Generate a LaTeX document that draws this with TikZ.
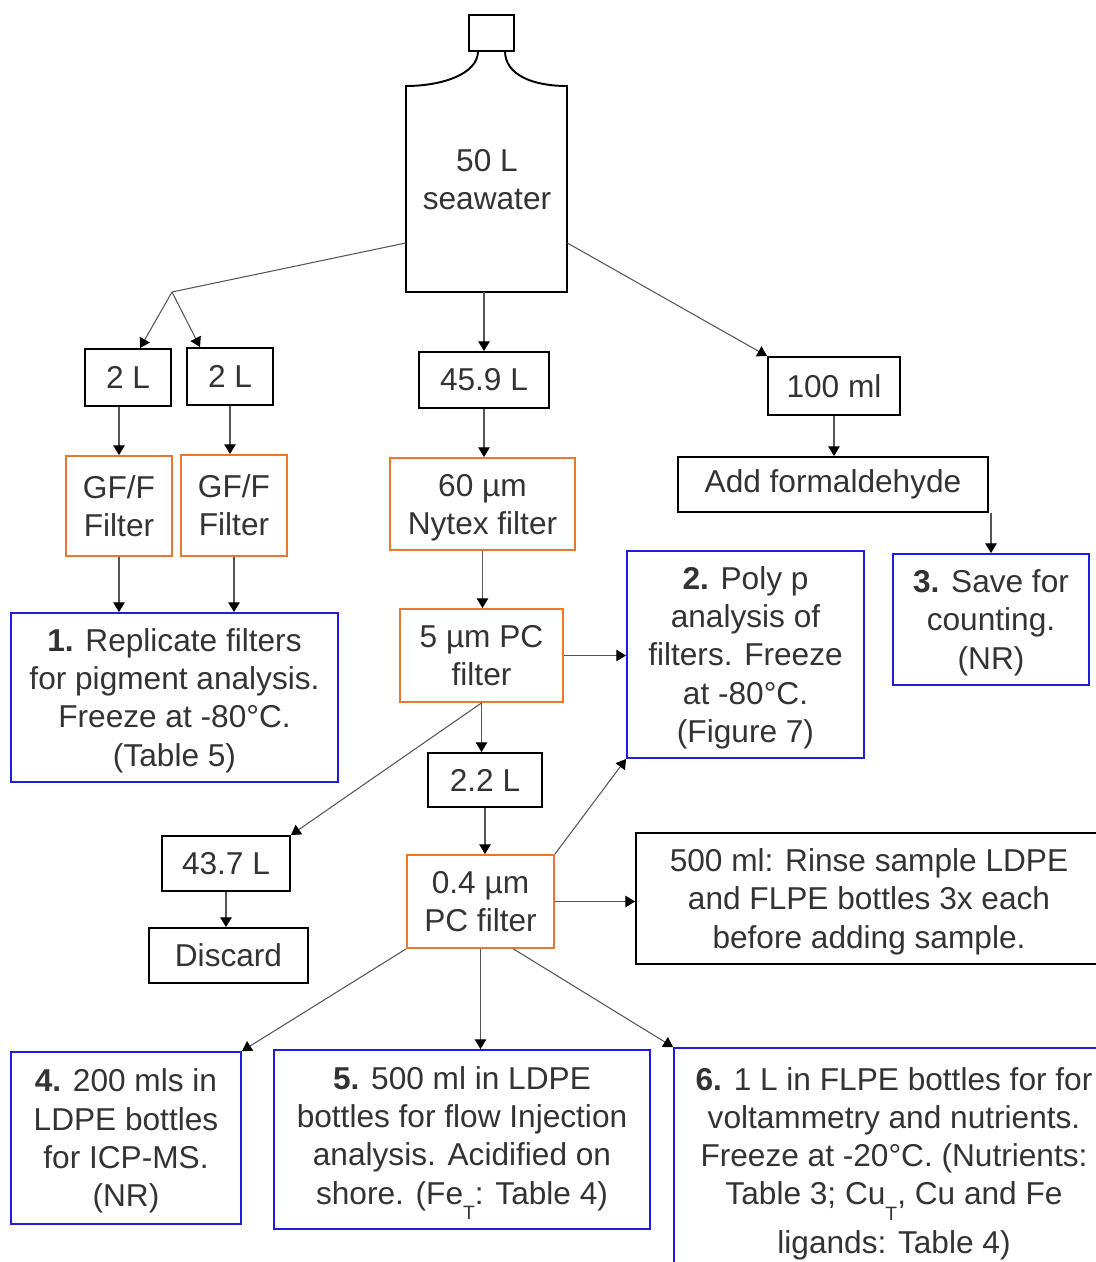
\documentclass[tikz,border=0pt]{standalone}
\usepackage{fontspec}
\setmainfont{Liberation Sans}
\usepackage{tikz}
\usetikzlibrary{arrows.meta}
\definecolor{txt}{HTML}{333333}
\definecolor{ln}{HTML}{555555}
\definecolor{filtc}{HTML}{E8782E}
\definecolor{resc}{HTML}{1E1EDC}
\tikzset{>/.tip={Triangle[length=5.5pt,width=6.5pt,color=black]},
  every node/.style={font=\fontsize{18}{21.8}\selectfont, text=txt, align=center, inner sep=0pt},
  box/.style={draw=black, line width=1.1pt},
  filt/.style={draw=filtc, line width=1.1pt},
  res/.style={draw=resc, line width=1.1pt},
  flow/.style={->, draw=ln, line width=0.6pt}}
\newcommand{\fs}{\rule[-4pt]{0pt}{20.9pt}}
\newcommand{\subT}{\raisebox{-0.9ex}{\fontsize{11}{11}\selectfont T}}

\begin{document}
\begin{tikzpicture}[x=0.02cm, y=-0.02cm]
\useasboundingbox (0,0) rectangle (1096,1262);
\clip (0,0) rectangle (1096,1262);

% bottle
\draw[line width=1.1pt] (469,15) rectangle (514,51);
\draw[line width=1.1pt] (478,51) .. controls (478,75) and (440,86) .. (406,86) -- (406,292)
  -- (567,292) -- (567,86) .. controls (533,86) and (505,75) .. (505,51);
\node[minimum width=3.22cm, minimum height=4.12cm] (sea) at (486.5,189) {};
\node (seatxt) at (487,179) {\fs 50 L\\seawater\fs};

\node[box, minimum width=1.72cm, minimum height=1.14cm] (twoa) at (128,377.5) {2 L};
\node[box, minimum width=1.72cm, minimum height=1.14cm] (twob) at (230,376.5) {2 L};
\node[filt, minimum width=2.12cm, minimum height=2.0cm] (gffa) at (119,506) {\fs GF/F\\Filter\fs};
\node[filt, minimum width=2.12cm, minimum height=2.02cm] (gffb) at (234,505.5) {\fs GF/F\\Filter\fs};
\node[res, minimum width=6.54cm, minimum height=3.38cm] (rep) at (174.5,697.5)
  {\fs\textbf{1.} Replicate filters\\for pigment analysis.\\Freeze at -80°C.\\(Table 5)\fs};

\node[box, minimum width=2.6cm, minimum height=1.12cm] (v459) at (484,380) {45.9 L};
\node[filt, minimum width=3.7cm, minimum height=1.84cm] (nytex) at (482.5,504) {\fs 60 µm\\Nytex filter\fs};
\node[filt, minimum width=3.26cm, minimum height=1.86cm] (pc5) at (481.5,655.5) {\fs 5 µm PC\\filter\fs};
\node[res, minimum width=4.74cm, minimum height=4.14cm] (poly) at (745.5,654.5)
  {\fs\textbf{2.} Poly p\\analysis of\\filters. Freeze\\at -80°C.\\(Figure 7)\fs};
\node[box, minimum width=2.28cm, minimum height=1.08cm] (v22) at (485,780) {2.2 L};
\node[box, minimum width=2.56cm, minimum height=1.1cm] (v437) at (226,863.5) {43.7 L};
\node[box, minimum width=3.18cm, minimum height=1.1cm] (discard) at (228.5,955.5) {Discard};
\node[filt, minimum width=2.94cm, minimum height=1.86cm] (pc04) at (480.5,901.5) {\fs 0.4 µm\\PC filter\fs};
\node[box, minimum width=9.32cm, minimum height=2.62cm] (rinse) at (869,898.5)
  {\fs 500 ml: Rinse sample LDPE\\and FLPE bottles 3x each\\before adding sample.\fs};

\node[res, minimum width=4.6cm, minimum height=3.44cm] (ldpe) at (126,1138)
  {\fs\textbf{4.} 200 mls in\\LDPE bottles\\for ICP-MS.\\(NR)\fs};
\node[res, minimum width=7.52cm, minimum height=3.58cm] (fia) at (462,1139.5)
  {\fs\textbf{5.} 500 ml in LDPE\\bottles for flow Injection\\analysis. Acidified on\\shore. (Fe\subT: Table 4)\fs};
\node[res, minimum width=8.8cm, minimum height=4.62cm] (flpe) at (894,1163.5)
  {\textbf{6.} 1 L in FLPE bottles for for\\voltammetry and nutrients.\\Freeze at -20°C. (Nutrients:\\Table 3; Cu\subT, Cu and Fe\\[0.2cm]ligands: Table 4)};

\node[box, minimum width=2.64cm, minimum height=1.16cm] (ml100) at (834,386) {100 ml};
\node[box, minimum width=6.2cm, minimum height=1.1cm] (formal) at (833,484.5) {Add formaldehyde};
\node[res, minimum width=3.92cm, minimum height=2.62cm] (count) at (991,619.5)
  {\fs\textbf{3.} Save for\\counting.\\(NR)\fs};

% connectors
\coordinate (split) at (172,292);
\draw[draw=ln, line width=0.6pt] ([yshift=-1.08cm]sea.west) to (split);
\draw[flow] (split) to ([xshift=0.24cm]twoa.north);
\draw[flow] (split) to ([xshift=-0.6cm]twob.north);
\draw[flow] (gffa.north |- twoa.south) to (gffa.north);
\draw[flow] (twob.south) to (twob.south |- gffb.north);
\draw[flow] (gffa.south) to (gffa.south |- rep.north);
\draw[flow] (gffb.south) to (gffb.south |- rep.north);

\draw[flow] (v459.north |- sea.south) to (v459.north);
\draw[flow] (v459.south) to (v459.south |- nytex.north);
\draw[flow] (nytex.south) to (nytex.south |- pc5.north);
\draw[flow] (pc5.east) to (pc5.east -| poly.west);
\draw[flow] (pc5.south) to (pc5.south |- v22.north);
\draw[flow] (pc5.south) to (v437.north east);
\draw[flow] (v22.south) to (v22.south |- pc04.north);
\draw[flow] (v437.south) to (v437.south |- discard.north);
\draw[flow] (pc04.north east) to (poly.south west);
\draw[flow] (pc04.east) to (pc04.east -| rinse.west);
\draw[flow] (pc04.south west) to (ldpe.north east);
\draw[flow] (pc04.south) to (pc04.south |- fia.north);
\draw[flow] ([xshift=0.66cm]pc04.south) to (flpe.north west);

\draw[flow] ([yshift=-1.08cm]sea.east) to (ml100.north west);
\draw[flow] (ml100.south) to (ml100.south |- formal.north);
\draw[flow] (count.north |- formal.south) to (count.north);
\end{tikzpicture}
\end{document}
